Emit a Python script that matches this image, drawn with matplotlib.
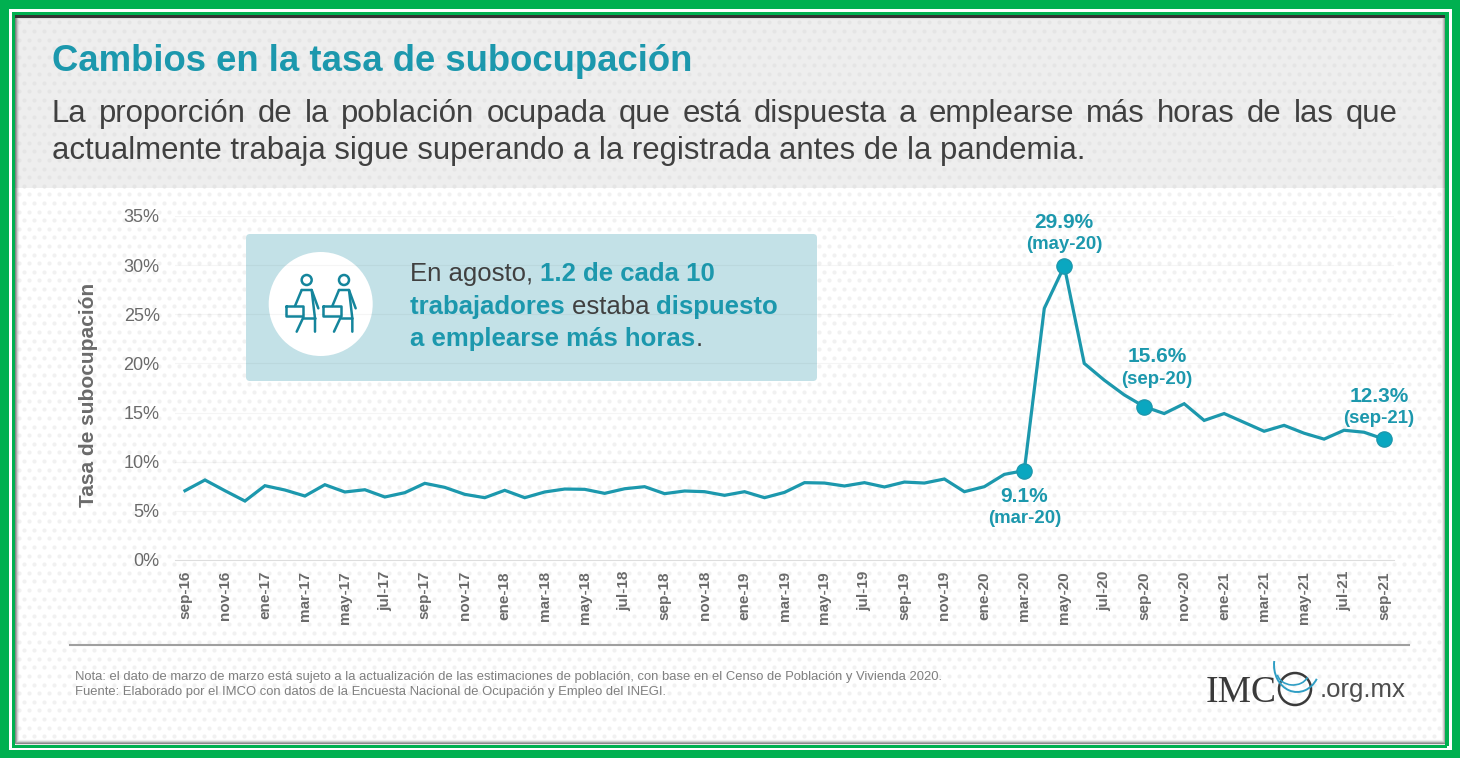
# -*- coding: utf-8 -*-
import numpy as np
import matplotlib
matplotlib.use('Agg')
import matplotlib.pyplot as plt
from matplotlib.patches import Rectangle, FancyBboxPatch, Circle, Arc

tasa = [7.05, 8.14, 7.05, 6.0, 7.56, 7.12, 6.51, 7.66, 6.92, 7.15, 6.41, 6.85, 7.8,
        7.39, 6.68, 6.34, 7.09, 6.34, 6.92, 7.22, 7.19, 6.78, 7.25, 7.46, 6.75, 7.02,
        6.95, 6.58, 6.95, 6.34, 6.88, 7.87, 7.83, 7.53, 7.87, 7.43, 7.93, 7.83, 8.24,
        6.95, 7.46, 8.71, 9.1, 25.6, 29.9, 20.0, 18.3, 16.8, 15.6, 14.9, 15.9, 14.2,
        14.9, 14.0, 13.1, 13.7, 12.9, 12.3, 13.2, 13.0, 12.3]
etiquetas = ['sep-16', 'nov-16', 'ene-17', 'mar-17', 'may-17', 'jul-17', 'sep-17', 'nov-17',
             'ene-18', 'mar-18', 'may-18', 'jul-18', 'sep-18', 'nov-18', 'ene-19', 'mar-19',
             'may-19', 'jul-19', 'sep-19', 'nov-19', 'ene-20', 'mar-20', 'may-20', 'jul-20',
             'sep-20', 'nov-20', 'ene-21', 'mar-21', 'may-21', 'jul-21', 'sep-21']
posiciones = list(range(0, 61, 2))
y_ticks = [0, 5, 10, 15, 20, 25, 30, 35]
destacados = [42, 44, 48, 60]
textos_dest = [('9.1%', '(mar-20)'), ('29.9%', '(may-20)'), ('15.6%', '(sep-20)'), ('12.3%', '(sep-21)')]
# desplazamiento de las etiquetas en px (valor, fecha)
offsets = [((0, -26), (0, -48)), ((0, 44), (0, 22)), ((13, 50), (13, 27)), ((-5, 43), (-5, 21))]

titulo = 'Cambios en la tasa de subocupación'
sub1 = 'La proporción de la población ocupada que está dispuesta a emplearse más horas de las que'
sub2 = 'actualmente trabaja sigue superando a la registrada antes de la pandemia.'
nota = 'Nota: el dato de marzo de marzo está sujeto a la actualización de las estimaciones de población, con base en el Censo de Población y Vivienda 2020.'
fuente = 'Fuente: Elaborado por el IMCO con datos de la Encuesta Nacional de Ocupación y Empleo del INEGI.'

TEAL = '#1c98ad'
GRIS = '#6a6a6a'
VERDE = '#00b050'
plt.rcParams['font.family'] = ['Liberation Sans', 'DejaVu Sans']

W, H = 1460, 758
fig = plt.figure(figsize=(W / 100, H / 100), dpi=100, facecolor='white')
bg = fig.add_axes([0, 0, 1, 1])
bg.set_xlim(0, W)
bg.set_ylim(H, 0)
bg.axis('off')
r = fig.canvas.get_renderer()

# fondo con puntos al tresbolillo
bg.add_patch(Rectangle((15, 15), 1430, 173, fc='#eeeeee', ec='none', zorder=0))
filas = np.arange(22.4, 742, 8.6)
for k, yy in enumerate(filas):
    xx = np.arange(19 + 5 * (k % 2), 1442, 10)
    color = '#e5e5e5' if yy < 188 else '#f1f1f1'
    bg.scatter(xx, np.full(len(xx), yy), s=9, c=color, lw=0, zorder=1)

# marco
for x, y, w, h in [(0, 0, W, 9), (0, H - 8, W, 8), (0, 0, 9, H), (W - 8, 0, 8, H),
                   (12, 12, W - 25, 3), (12, H - 13, W - 25, 3), (12, 12, 3, H - 24), (W - 15, 12, 4, H - 24)]:
    bg.add_patch(Rectangle((x, y), w, h, fc=VERDE, ec='none', zorder=6))
for i, a in enumerate([0.55, 0.32, 0.16, 0.06]):
    bg.add_patch(Rectangle((15 + i, 15 + i), W - 30 - 2 * i, H - 30 - 2 * i, fc='none',
                           ec='#333333', alpha=a, lw=1, zorder=5))
bg.add_patch(Rectangle((15, 15), W - 30, 3, fc='#333333', ec='none', zorder=5))


def pone(x, y, s, size, color, weight='normal', **kw):
    return bg.text(x, y, s, fontsize=size, color=color, fontweight=weight, va='baseline', **kw)


def corridos(x, y, partes, size):
    # tramos seguidos con distinto estilo en una misma linea
    for s, color, weight in partes:
        t = pone(x, y, s, size, color, weight)
        x = t.get_window_extent(r).x1


def justificado(x0, x1, y, s, size, color):
    palabras = s.split(' ')
    ts = [pone(0, y, p, size, color) for p in palabras]
    anchos = [t.get_window_extent(r).width for t in ts]
    hueco = (x1 - x0 - sum(anchos)) / (len(palabras) - 1)
    x = x0
    for t, a in zip(ts, anchos):
        t.set_x(x)
        x += a + hueco


pone(52, 71, titulo, 26.3, TEAL, 'bold')
justificado(52, 1398, 122, sub1, 22.4, '#404040')
pone(52, 159, sub2, 22.4, '#404040')

# recuadro
bg.add_patch(FancyBboxPatch((249, 237), 565, 141, boxstyle='round,pad=3,rounding_size=4',
                            fc='#c3e1e7', ec='none', zorder=2))
bg.add_patch(Circle((320.7, 304), 52, fc='white', ec='none', zorder=3))
trazos = [[(185, 180), (215, 180), (235, 235)], [(185, 180), (165, 228)], [(215, 180), (225, 265), (225, 305)],
          [(190, 265), (225, 265)], [(190, 262), (170, 305)],
          [(138, 228), (190, 228), (190, 258), (138, 258), (138, 228)]]
for dx in [0, 112]:
    for tr in trazos:
        tr = np.array(tr, dtype=float)
        bg.plot(240 + (tr[:, 0] + dx) / 3, 230 + tr[:, 1] / 3, color='#14859c', lw=1.8, zorder=4,
                solid_capstyle='round', solid_joinstyle='round')
    bg.add_patch(Circle((240 + (200 + dx) / 3, 280), 5, fc='none', ec='#14859c', lw=1.8, zorder=4))

corridos(410, 281, [('En agosto, ', '#404040', 'normal'), ('1.2 de cada 10', TEAL, 'bold')], 18.5)
corridos(410, 314, [('trabajadores ', TEAL, 'bold'), ('estaba ', '#404040', 'normal'), ('dispuesto', TEAL, 'bold')], 18.5)
corridos(410, 346, [('a emplearse más horas', TEAL, 'bold'), ('.', '#404040', 'normal')], 18.5)

# pie
bg.plot([70, 1409], [645, 645], color='#a0a0a0', lw=1.5)
pone(75, 680, nota, 9.38, '#7f7f7f')
pone(75, 695, fuente, 9.38, '#7f7f7f')
pone(1206, 702, 'IMC', 27, '#3a3a3a', family=['Liberation Serif'])
bg.add_patch(Circle((1295, 689), 16, fc='none', ec='#3a3a3a', lw=1.8, zorder=3))
pone(1320, 697, '.org.mx', 18.5, '#4d4d4d')
bg.add_patch(Arc((1297, 665), 46, 54, theta1=35, theta2=190, color='#2f9ec4', lw=1.4, zorder=4))
bg.add_patch(Arc((1293, 672), 32, 26, theta1=20, theta2=170, color='#2f9ec4', lw=1.2, zorder=4))

# grafica
ax = fig.add_axes([175 / W, 1 - 560 / H, 1219 / W, 344 / H])
ax.patch.set_alpha(0)
x = np.arange(len(tasa))
ax.plot(x, tasa, color=TEAL, lw=2.3, solid_joinstyle='miter', zorder=3)
ax.scatter([x[i] for i in destacados], [tasa[i] for i in destacados], s=120, c='#0aa7c0',
           edgecolors=TEAL, lw=1, zorder=4)
ax.set_xlim(-0.5, 60.5)
ax.set_ylim(0, 35)
ax.set_yticks(y_ticks)
ax.set_yticklabels([str(v) + '%' for v in y_ticks], fontsize=13, color=GRIS)
ax.set_xticks(posiciones)
ax.set_xticklabels(etiquetas, rotation=90, fontsize=11, color=GRIS, fontweight='bold')
ax.tick_params(length=0, axis='both')
ax.tick_params(axis='y', pad=11)
ax.tick_params(axis='x', pad=8)
ax.grid(axis='y', color='black', alpha=0.04, lw=0.8)
ax.set_axisbelow(True)
for s in ['top', 'left', 'right']:
    ax.spines[s].set_visible(False)
ax.spines['bottom'].set_color('#dddddd')
ax.set_ylabel('Tasa de subocupación', fontsize=15, color=GRIS, fontweight='bold')
ax.yaxis.set_label_coords((98 - 175) / 1219, 0.48)

for i, (t1, t2), (o1, o2) in zip(destacados, textos_dest, offsets):
    for s, o, sz in [(t1, o1, 15), (t2, o2, 13.4)]:
        ax.annotate(s, (x[i], tasa[i]), xytext=(o[0] * 0.72, o[1] * 0.72), textcoords='offset points',
                    ha='center', va='center', fontsize=sz, color=TEAL, fontweight='bold')

fig.savefig('out.png', dpi=100)
